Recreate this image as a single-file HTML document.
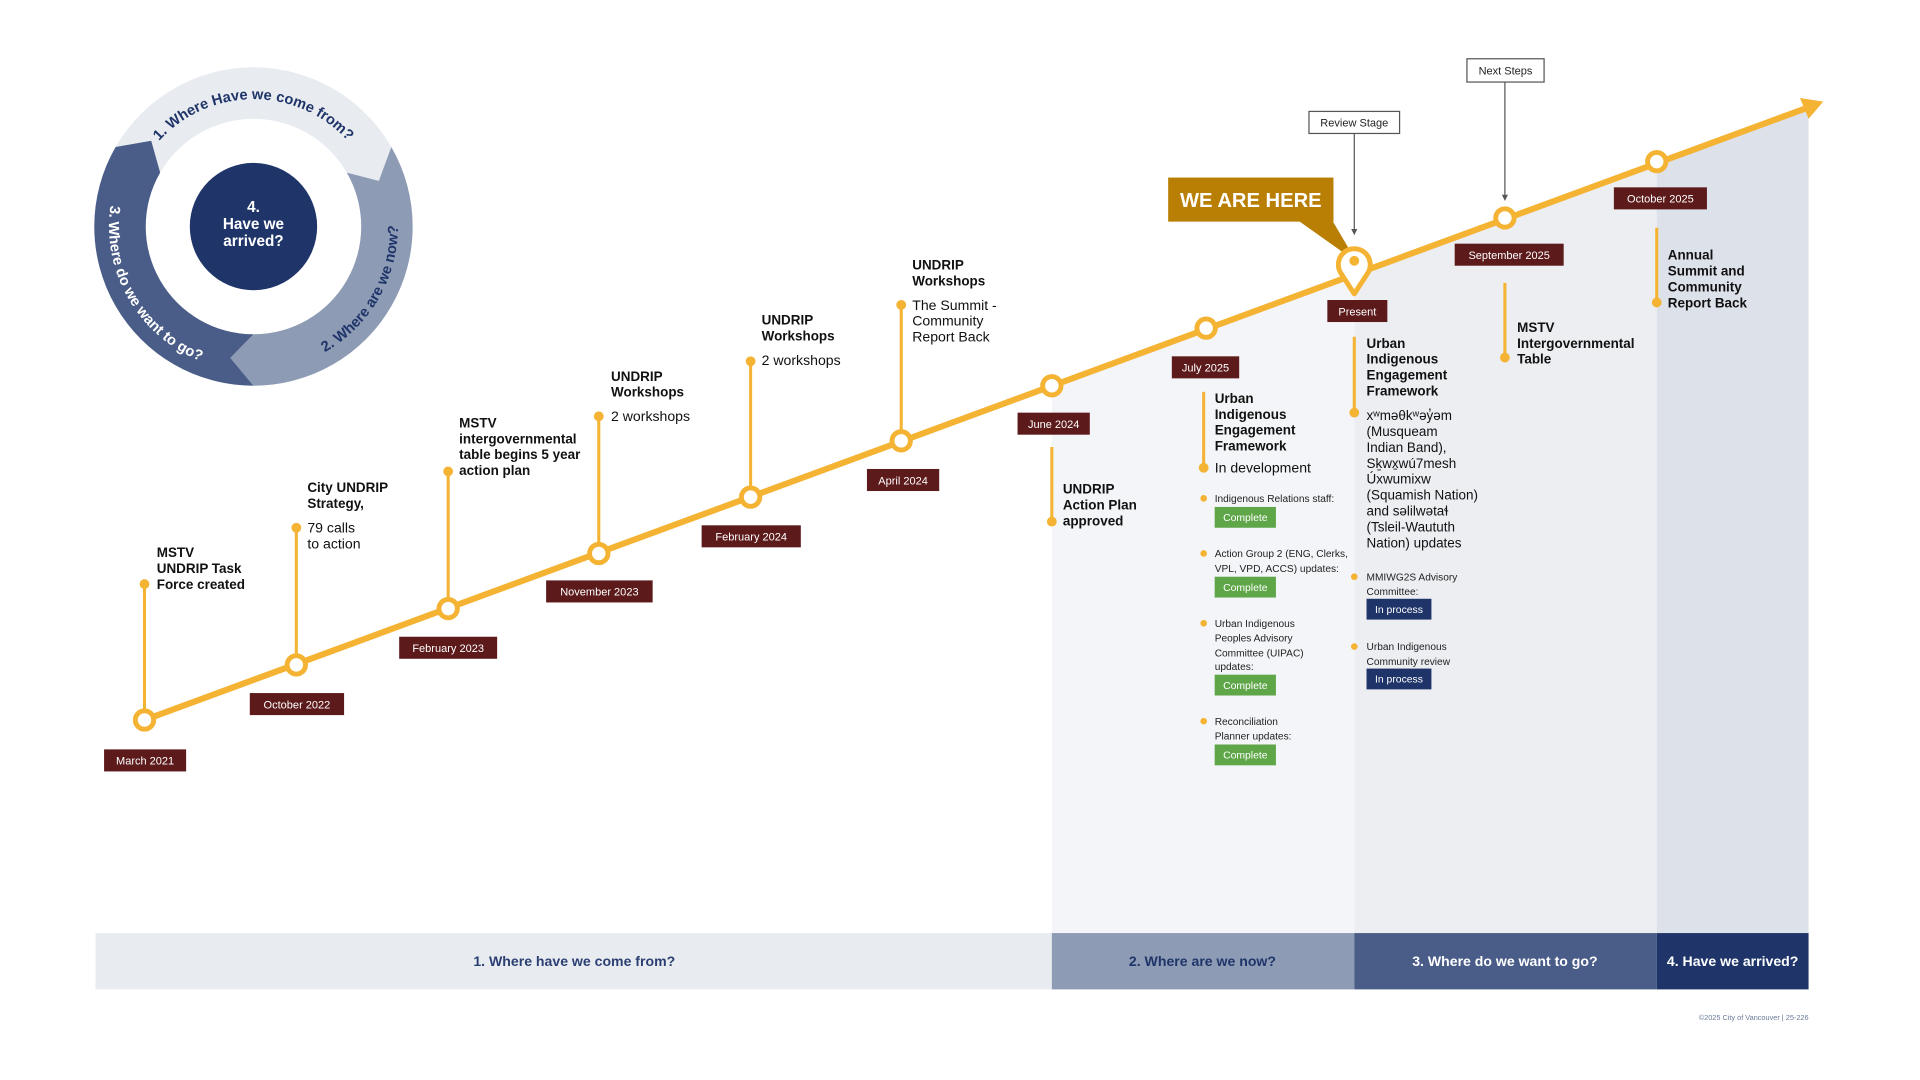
<!DOCTYPE html>
<html><head><meta charset="utf-8"><style>
html,body{margin:0;padding:0;background:#fff;}
svg{display:block;font-family:"Liberation Sans","DejaVu Sans",sans-serif;}
.b{font-weight:bold;font-size:11px;fill:#111;}
.r{font-size:11.5px;fill:#111;}
.s{font-size:8.3px;fill:#222;}
.d{font-size:9px;fill:#fff;}
.bd{font-size:8.5px;fill:#fff;}
</style></head><body>
<svg width="1920" height="1080" viewBox="0 0 1568 882" xmlns="http://www.w3.org/2000/svg">
<rect width="1568" height="882" fill="#fff"/>
<!-- shaded areas -->
<polygon points="859,315.3 1106,224.4 1106,762 859,762" fill="#f4f5f8"/>
<polygon points="1106,224.4 1353,133.5 1353,762 1106,762" fill="#eceef2"/>
<polygon points="1353,133.5 1477,87.9 1477,762 1353,762" fill="#dde1e9"/>
<!-- bottom band -->
<rect x="78" y="762" width="781" height="46" fill="#e8ebf0"/>
<rect x="859" y="762" width="247" height="46" fill="#8d9bb5"/>
<rect x="1106" y="762" width="247" height="46" fill="#4a5d88"/>
<rect x="1353" y="762" width="124" height="46" fill="#1f3569"/>
<g font-weight="bold" font-size="11.5" text-anchor="middle">
<text x="469" y="789" fill="#2b3f73">1. Where have we come from?</text>
<text x="982" y="789" fill="#1f3569">2. Where are we now?</text>
<text x="1229" y="789" fill="#fff">3. Where do we want to go?</text>
<text x="1415" y="789" fill="#fff">4. Have we arrived?</text>
</g>
<text x="1477" y="833" font-size="6" fill="#6a7a9a" text-anchor="end">©2025 City of Vancouver | 25-226</text>

<!-- cycle -->
<path d="M94.4,120 A130,130 0 0 1 319.6,120 L309.4,147.7 L283.2,141 A88,88 0 0 0 130.8,141 L123.5,114.9 Z" fill="#e8ebf0"/>
<path d="M319.6,120 A130,130 0 0 1 207,315 L188.1,292.3 L207,273 A88,88 0 0 0 283.2,141 L309.4,147.7 Z" fill="#8d9bb5"/>
<path d="M207,315 A130,130 0 0 1 94.4,120 L123.5,114.9 L130.8,141 A88,88 0 0 0 207,273 L188.1,292.3 Z" fill="#4a5d88"/>
<circle cx="207" cy="185" r="52" fill="#1f3569"/>
<g font-weight="bold" font-size="12.5" fill="#fff" text-anchor="middle">
<text x="207" y="173">4.</text><text x="207" y="187">Have we</text><text x="207" y="201">arrived?</text>
</g>
<defs>
<path id="cw" d="M207,289 A104,104 0 1 1 207,81 A104,104 0 1 1 207,289"/>
<path id="ccw1" d="M104.8,126 A118,118 0 0 0 309.2,244 A118,118 0 0 0 104.8,126"/>
<path id="ccw2" d="M309.2,126 A118,118 0 0 0 104.8,244 A118,118 0 0 0 309.2,126"/>
</defs>
<text font-weight="bold" font-size="12" fill="#1f3569" text-anchor="middle"><textPath href="#cw" startOffset="50%">1. Where Have we come from?</textPath></text>
<text font-weight="bold" font-size="12" fill="#1f3569" text-anchor="middle"><textPath href="#ccw1" startOffset="50%">2. Where are we now?</textPath></text>
<text font-weight="bold" font-size="12" fill="#fff" text-anchor="middle"><textPath href="#ccw2" startOffset="50%">3. Where do we want to go?</textPath></text>

<!-- stems -->
<g stroke="#f4b332" stroke-width="2.5">
<line x1="118" y1="588" x2="118" y2="477"/>
<line x1="242" y1="543" x2="242" y2="431"/>
<line x1="366" y1="497" x2="366" y2="385"/>
<line x1="489" y1="452" x2="489" y2="340"/>
<line x1="613" y1="406" x2="613" y2="295"/>
<line x1="736" y1="360" x2="736" y2="249"/>
<line x1="859" y1="365" x2="859" y2="426"/>
<line x1="983" y1="320" x2="983" y2="382"/>
<line x1="1106" y1="275" x2="1106" y2="337"/>
<line x1="1229" y1="231" x2="1229" y2="292"/>
<line x1="1353" y1="186" x2="1353" y2="247"/>
</g>
<g fill="#f4b332">
<circle cx="118" cy="477" r="4"/><circle cx="242" cy="431" r="4"/><circle cx="366" cy="385" r="4"/>
<circle cx="489" cy="340" r="4"/><circle cx="613" cy="295" r="4"/><circle cx="736" cy="249" r="4"/>
<circle cx="859" cy="426" r="4"/><circle cx="983" cy="382" r="4"/><circle cx="1106" cy="337" r="4"/>
<circle cx="1229" cy="292" r="4"/><circle cx="1353" cy="247" r="4"/>
<circle cx="983" cy="407" r="2.7"/><circle cx="983" cy="452" r="2.7"/><circle cx="983" cy="509" r="2.7"/><circle cx="983" cy="589" r="2.7"/>
<circle cx="1106" cy="471" r="2.7"/><circle cx="1106" cy="528" r="2.7"/>
</g>

<!-- main line -->
<line x1="118" y1="588" x2="1476" y2="88" stroke="#f4b332" stroke-width="5"/>
<polygon points="1489,83 1477,97 1470,80" fill="#f4b332"/>
<g fill="#fff" stroke="#f4b332" stroke-width="4">
<circle cx="118" cy="588" r="7.5"/><circle cx="242" cy="543" r="7.5"/><circle cx="366" cy="497" r="7.5"/>
<circle cx="489" cy="452" r="7.5"/><circle cx="613" cy="406" r="7.5"/><circle cx="736" cy="360" r="7.5"/>
<circle cx="859" cy="315" r="7.5"/><circle cx="985" cy="268" r="7.5"/><circle cx="1229" cy="178" r="7.5"/>
<circle cx="1353" cy="132" r="7.5"/>
</g>

<!-- review / next steps -->
<rect x="1069" y="91" width="74" height="18" fill="#fff" stroke="#555" stroke-width="1"/>
<text x="1106" y="103.5" font-size="9" fill="#222" text-anchor="middle">Review Stage</text>
<line x1="1106" y1="109" x2="1106" y2="188" stroke="#555" stroke-width="1"/>
<polygon points="1103.5,187 1108.5,187 1106,192" fill="#555"/>
<rect x="1198" y="48" width="63" height="19" fill="#fff" stroke="#555" stroke-width="1"/>
<text x="1229.5" y="61" font-size="9" fill="#222" text-anchor="middle">Next Steps</text>
<line x1="1229" y1="67" x2="1229" y2="160" stroke="#555" stroke-width="1"/>
<polygon points="1226.5,159 1231.5,159 1229,164" fill="#555"/>

<!-- we are here -->
<polygon points="1060,180 1088,180 1108,214" fill="#b97f04"/>
<rect x="954" y="145" width="135" height="36" fill="#b97f04"/>
<text x="1021.5" y="169" font-size="16.5" font-weight="bold" fill="#fff" text-anchor="middle">WE ARE HERE</text>
<path d="M1106,240 L1095,223 A13,13 0 1 1 1117,223 Z" fill="#fff" stroke="#f4b332" stroke-width="4" stroke-linejoin="round"/>
<circle cx="1106" cy="213" r="4" fill="#f4b332"/>

<!-- date labels -->
<g fill="#5c1a1b">
<rect x="85" y="612" width="67" height="18"/><rect x="204" y="566" width="77" height="18"/>
<rect x="326" y="520" width="80" height="18"/><rect x="446" y="474" width="87" height="18"/>
<rect x="573" y="429" width="81" height="18"/><rect x="708" y="383" width="59" height="18"/>
<rect x="831" y="337" width="59" height="18"/><rect x="957" y="291" width="55" height="18"/>
<rect x="1084" y="245" width="49" height="18"/><rect x="1188" y="199" width="89" height="18"/>
<rect x="1318" y="153" width="76" height="18"/>
</g>
<g class="d" text-anchor="middle">
<text x="118.5" y="624.5">March 2021</text><text x="242.5" y="578.5">October 2022</text>
<text x="366" y="532.5">February 2023</text><text x="489.5" y="486.5">November 2023</text>
<text x="613.5" y="441.5">February 2024</text><text x="737.5" y="395.5">April 2024</text>
<text x="860.5" y="349.5">June 2024</text><text x="984.5" y="303.5">July 2025</text>
<text x="1108.5" y="257.5">Present</text><text x="1232.5" y="211.5">September 2025</text>
<text x="1356" y="165.5">October 2025</text>
</g>

<!-- events -->
<g class="b">
<text x="128" y="455">MSTV</text><text x="128" y="468">UNDRIP Task</text><text x="128" y="481">Force created</text>
<text x="251" y="402">City UNDRIP</text><text x="251" y="415">Strategy,</text>
<text x="375" y="349">MSTV</text><text x="375" y="362">intergovernmental</text><text x="375" y="375">table begins 5 year</text><text x="375" y="388">action plan</text>
<text x="499" y="311">UNDRIP</text><text x="499" y="324">Workshops</text>
<text x="622" y="265">UNDRIP</text><text x="622" y="278">Workshops</text>
<text x="745" y="220">UNDRIP</text><text x="745" y="233">Workshops</text>
<text x="868" y="403">UNDRIP</text><text x="868" y="416">Action Plan</text><text x="868" y="429">approved</text>
<text x="992" y="329">Urban</text><text x="992" y="342">Indigenous</text><text x="992" y="355">Engagement</text><text x="992" y="368">Framework</text>
<text x="1116" y="284">Urban</text><text x="1116" y="297">Indigenous</text><text x="1116" y="310">Engagement</text><text x="1116" y="323">Framework</text>
<text x="1239" y="271">MSTV</text><text x="1239" y="284">Intergovernmental</text><text x="1239" y="297">Table</text>
<text x="1362" y="212">Annual</text><text x="1362" y="225">Summit and</text><text x="1362" y="238">Community</text><text x="1362" y="251">Report Back</text>
</g>
<g class="r">
<text x="251" y="435">79 calls</text><text x="251" y="448">to action</text>
<text x="499" y="344">2 workshops</text>
<text x="622" y="298">2 workshops</text>
<text x="745" y="253">The Summit -</text><text x="745" y="266">Community</text><text x="745" y="279">Report Back</text>
<text x="992" y="386">In development</text>
<g font-size="11">
<text x="1116" y="343">xʷməθkʷəy̓əm</text><text x="1116" y="356">(Musqueam</text><text x="1116" y="369">Indian Band),</text>
<text x="1116" y="382">Sḵwx̱wú7mesh</text><text x="1116" y="395">Úxwumixw</text><text x="1116" y="408">(Squamish Nation)</text>
<text x="1116" y="421">and səlilwətaɬ</text><text x="1116" y="434">(Tsleil-Waututh</text><text x="1116" y="447">Nation) updates</text>
</g>
</g>
<g class="s">
<text x="992" y="410">Indigenous Relations staff:</text>
<text x="992" y="455">Action Group 2 (ENG, Clerks,</text><text x="992" y="467">VPL, VPD, ACCS) updates:</text>
<text x="992" y="512">Urban Indigenous</text><text x="992" y="524">Peoples Advisory</text><text x="992" y="536">Committee (UIPAC)</text><text x="992" y="547">updates:</text>
<text x="992" y="592">Reconciliation</text><text x="992" y="604">Planner updates:</text>
<text x="1116" y="474">MMIWG2S Advisory</text><text x="1116" y="486">Committee:</text>
<text x="1116" y="531">Urban Indigenous</text><text x="1116" y="543">Community review</text>
</g>
<g fill="#5ea648">
<rect x="992" y="414" width="50" height="17"/><rect x="992" y="471" width="50" height="17"/>
<rect x="992" y="551" width="50" height="17"/><rect x="992" y="608" width="50" height="17"/>
</g>
<g fill="#1f3569">
<rect x="1116" y="489" width="53" height="17"/><rect x="1116" y="546" width="53" height="17"/>
</g>
<g class="bd" text-anchor="middle">
<text x="1017" y="425.5">Complete</text><text x="1017" y="482.5">Complete</text>
<text x="1017" y="562.5">Complete</text><text x="1017" y="619.5">Complete</text>
<text x="1142.5" y="500.5">In process</text><text x="1142.5" y="557.5">In process</text>
</g>
</svg>
</body></html>
